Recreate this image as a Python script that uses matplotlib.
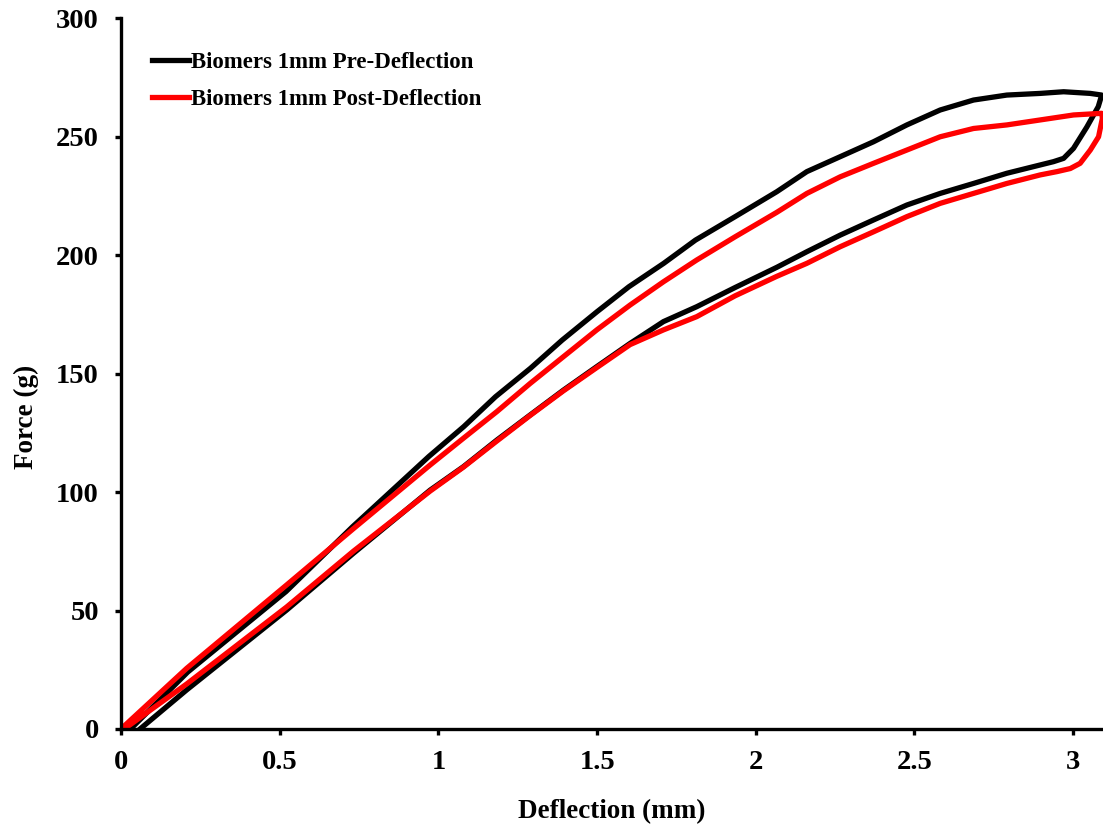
import matplotlib
matplotlib.use("Agg")
import matplotlib.pyplot as plt

plt.rcParams['font.family'] = ['Liberation Serif', 'DejaVu Serif']
plt.rcParams['font.weight'] = 'bold'

# Pre-deflection loop (loading branch, then unloading branch back to zero)
pre_load_x = [0.03, 0.21, 0.52, 0.73, 0.97, 1.08, 1.18, 1.29, 1.39, 1.50, 1.60, 1.71,
              1.81, 1.935, 2.066, 2.161, 2.266, 2.371, 2.476, 2.581, 2.686, 2.791,
              2.896, 2.97, 3.054, 3.09]
pre_load_f = [0, 24, 58, 85.4, 115, 127.6, 140.2, 152.2, 164.1, 176.1, 186.6, 196.5,
              206.3, 216.2, 226.7, 235.2, 241.5, 247.8, 254.9, 261.2, 265.4, 267.5,
              268.2, 268.9, 268.2, 267.5]
pre_unload_x = [3.09, 3.079, 3.043, 3.001, 2.970, 2.938, 2.896, 2.791, 2.686, 2.581,
                2.476, 2.371, 2.266, 2.161, 2.066, 1.935, 1.814, 1.709, 1.604, 1.499,
                1.394, 1.289, 1.184, 1.079, 0.974, 0.732, 0.522, 0.207, 0.06]
pre_unload_f = [267.5, 262.6, 254, 245, 240.8, 239.4, 238, 234.5, 230.2, 226,
                221.1, 214.8, 208.4, 201.4, 194.8, 186.3, 178.2, 171.9, 162.7, 152.9,
                143, 132.5, 121.9, 110.7, 100.8, 74.1, 50.2, 16.5, 0]

# Post-deflection loop
post_load_x = [0.0, 0.207, 0.522, 0.732, 0.974, 1.079, 1.184, 1.289, 1.394, 1.499,
               1.604, 1.709, 1.814, 1.935, 2.066, 2.161, 2.266, 2.371, 2.476, 2.581,
               2.686, 2.791, 2.896, 3.001, 3.09]
post_load_f = [0, 25.6, 60.8, 84.5, 111.4, 122.7, 133.9, 145.8, 157.1, 168.4,
               178.9, 188.7, 197.9, 207.7, 218, 226, 233, 238.7, 244.3, 249.9,
               253.4, 254.9, 257, 259.1, 259.8]
post_unload_x = [3.09, 3.092, 3.08, 3.054, 3.022, 2.991, 2.949, 2.896, 2.791, 2.686,
                 2.581, 2.476, 2.371, 2.266, 2.161, 2.066, 1.935, 1.814, 1.709, 1.604,
                 1.499, 1.394, 1.289, 1.184, 1.079, 0.974, 0.732, 0.522, 0.207, 0.01]
post_unload_f = [259.8, 257.7, 249.9, 244.3, 238.7, 236.5, 235.2, 233.8, 230.2, 226,
                 221.8, 216.2, 209.8, 203.5, 196.5, 191, 182.8, 174, 168.4, 162.2,
                 152.5, 142.7, 132.3, 121.5, 110.5, 100.4, 75, 51.5, 19, 0]

series_labels = ['Biomers 1mm Pre-Deflection', 'Biomers 1mm Post-Deflection']
x_ticks = [0, 0.5, 1, 1.5, 2, 2.5, 3]
x_tick_labels = ['0', '0.5', '1', '1.5', '2', '2.5', '3']
y_ticks = [0, 50, 100, 150, 200, 250, 300]

fig = plt.figure(figsize=(11.03, 8.24), dpi=100)
ax = fig.add_axes([0.1097, 0.1153, 0.8903, 0.8628])

ax.plot(pre_load_x + pre_unload_x, pre_load_f + pre_unload_f,
        color='black', lw=3.8, label=series_labels[0], solid_joinstyle='round')
ax.plot(post_load_x + post_unload_x, post_load_f + post_unload_f,
        color='#ff0000', lw=3.8, label=series_labels[1], solid_joinstyle='round')

ax.set_xlim(0, 3.094)
ax.set_ylim(0, 300)
ax.set_xticks(x_ticks)
ax.set_xticklabels(x_tick_labels)
ax.set_yticks(y_ticks)

for s in ['top', 'right']:
    ax.spines[s].set_visible(False)
for s in ['left', 'bottom']:
    ax.spines[s].set_linewidth(2.4)
ax.tick_params(axis='both', direction='out', length=4, width=2.4, labelsize=20.5)
ax.tick_params(axis='x', pad=11)
ax.tick_params(axis='y', pad=12)
for lbl in ax.get_xticklabels() + ax.get_yticklabels():
    lbl.set_fontweight('bold')

ax.set_xlabel('Deflection (mm)', fontsize=19.5, fontweight='bold')
ax.set_ylabel('Force (g)', fontsize=19.5, fontweight='bold')
ax.xaxis.set_label_coords(0.5, -0.098)
ax.yaxis.set_label_coords(-0.083, 0.439)

leg = ax.legend(loc='upper left', bbox_to_anchor=(0.0316, 0.952), frameon=False,
                fontsize=16.5, handlelength=1.6, handletextpad=0.1, labelspacing=0.68,
                borderpad=0, borderaxespad=0)
for t in leg.get_texts():
    t.set_fontweight('bold')

fig.savefig('out.png', dpi=100)
